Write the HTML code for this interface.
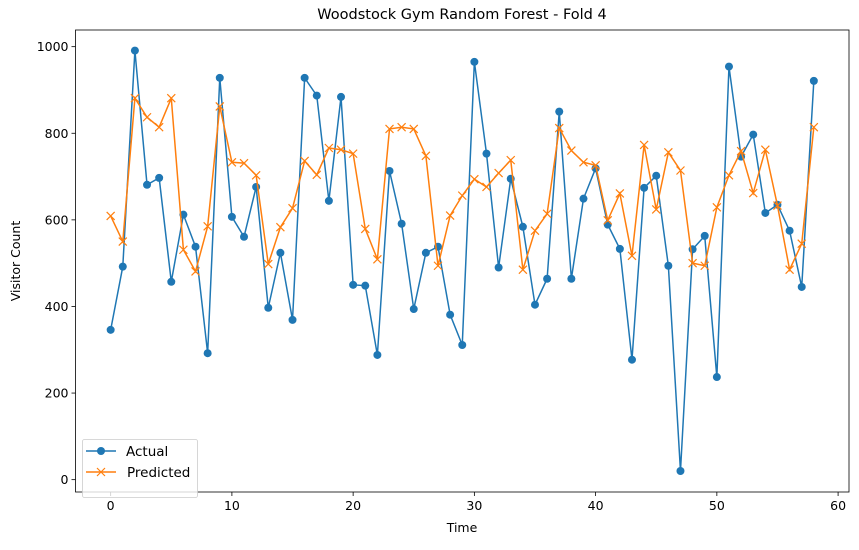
<!DOCTYPE html>
<html><head><meta charset="utf-8"><style>
body{margin:0;background:#fff;font-family:"Liberation Sans","DejaVu Sans",sans-serif}
svg text{font-family:"DejaVu Sans","Liberation Sans",sans-serif}
</style></head><body>
<svg id="chart" width="859" height="545" xmlns="http://www.w3.org/2000/svg"></svg>
<script>
const actualValues=[346,492,991,681,697,457,612,538,292,928,607,561,676,397,524,369,928,887,644,884,450,448,288,713,591,394,524,538,381,311,965,753,490,695,584,404,464,850,464,649,719,589,533,277,674,702,494,20,532,563,237,954,746,797,616,635,575,445,921];
const predictedValues=[609,550,881,837,814,881,531,481,585,862,733,731,703,498,583,627,736,704,766,762,753,579,509,810,814,810,748,494,610,656,694,676,708,738,485,575,614,812,760,733,726,599,661,517,773,624,756,714,500,494,629,703,759,662,762,633,485,545,814];
const xTicks=[0,10,20,30,40,50,60];
const yTicks=[0,200,400,600,800,1000];
const NS="http://www.w3.org/2000/svg";
const svg=document.getElementById('chart');
const L=75.5,R=849,T=30,B=492,xMin=-2.9,xMax=60.9,yMin=-28.5,yMax=1038.5;
const X=v=>L+(v-xMin)/(xMax-xMin)*(R-L);
const Y=v=>B-(v-yMin)/(yMax-yMin)*(B-T);
function mk(tag,attrs,parent){const e=document.createElementNS(NS,tag);for(const k in attrs)e.setAttribute(k,attrs[k]);(parent||svg).appendChild(e);return e;}
const t=mk('text',{x:462,y:19,'text-anchor':'middle','font-size':14.5,fill:'#000'});t.textContent='Woodstock Gym Random Forest - Fold 4';


xTicks.forEach(v=>{const g=mk('g',{});


mk('line',{x1:X(v),x2:X(v),y1:B,y2:B+4,stroke:'#000','stroke-width':0.8},g);
const tx=mk('text',{x:X(v),y:B+18,'text-anchor':'middle','font-size':12.5,fill:'#000'},g);tx.textContent=v;});
yTicks.forEach(v=>{const g=mk('g',{});


mk('line',{x1:L-4,x2:L,y1:Y(v),y2:Y(v),stroke:'#000','stroke-width':0.8},g);
const tx=mk('text',{x:L-7,y:Y(v)+4.5,'text-anchor':'end','font-size':12.5,fill:'#000'},g);tx.textContent=v;});
const xl=mk('text',{x:462,y:532,'text-anchor':'middle','font-size':12.5,fill:'#000'});xl.textContent='Time';


const yl=mk('text',{x:20,y:261,'text-anchor':'middle','font-size':12.5,fill:'#000',transform:'rotate(-90 20 261)'});yl.textContent='Visitor Count';


function series(vals,color,name,marker){
const g=mk('g',{});


mk('polyline',{points:vals.map((v,i)=>X(i)+','+Y(v)).join(' '),fill:'none',stroke:color,'stroke-width':1.5},g);
vals.forEach((v,i)=>{let m;
if(marker==='o'){m=mk('circle',{cx:X(i),cy:Y(v),r:4,fill:color},g);}
else{m=mk('path',{d:`M${X(i)-4},${Y(v)-4}L${X(i)+4},${Y(v)+4}M${X(i)-4},${Y(v)+4}L${X(i)+4},${Y(v)-4}`,stroke:color,'stroke-width':1.2,fill:'none'},g);}

});}
series(actualValues,'#1f77b4','actual','o');
series(predictedValues,'#ff7f0e','predicted','x');
const frame=mk('rect',{x:L,y:T,width:R-L,height:B-T,fill:'none',stroke:'#000','stroke-width':0.8});


const lg=mk('g',{});


mk('rect',{x:82.5,y:439.5,width:115,height:58,rx:2,fill:'#fff','fill-opacity':0.8,stroke:'#ccc','stroke-width':0.8},lg);
mk('line',{x1:86,x2:116,y1:451,y2:451,stroke:'#1f77b4','stroke-width':1.5},lg);
mk('circle',{cx:101,cy:451,r:4,fill:'#1f77b4'},lg);
const a=mk('text',{x:126,y:456,'font-size':13.5,fill:'#000'},lg);a.textContent='Actual';
mk('line',{x1:86,x2:116,y1:472,y2:472,stroke:'#ff7f0e','stroke-width':1.5},lg);
mk('path',{d:'M97,468L105,476M97,476L105,468',stroke:'#ff7f0e','stroke-width':1.2},lg);
const p=mk('text',{x:127,y:477,'font-size':13.5,fill:'#000'},lg);p.textContent='Predicted';
</script>
</body></html>
